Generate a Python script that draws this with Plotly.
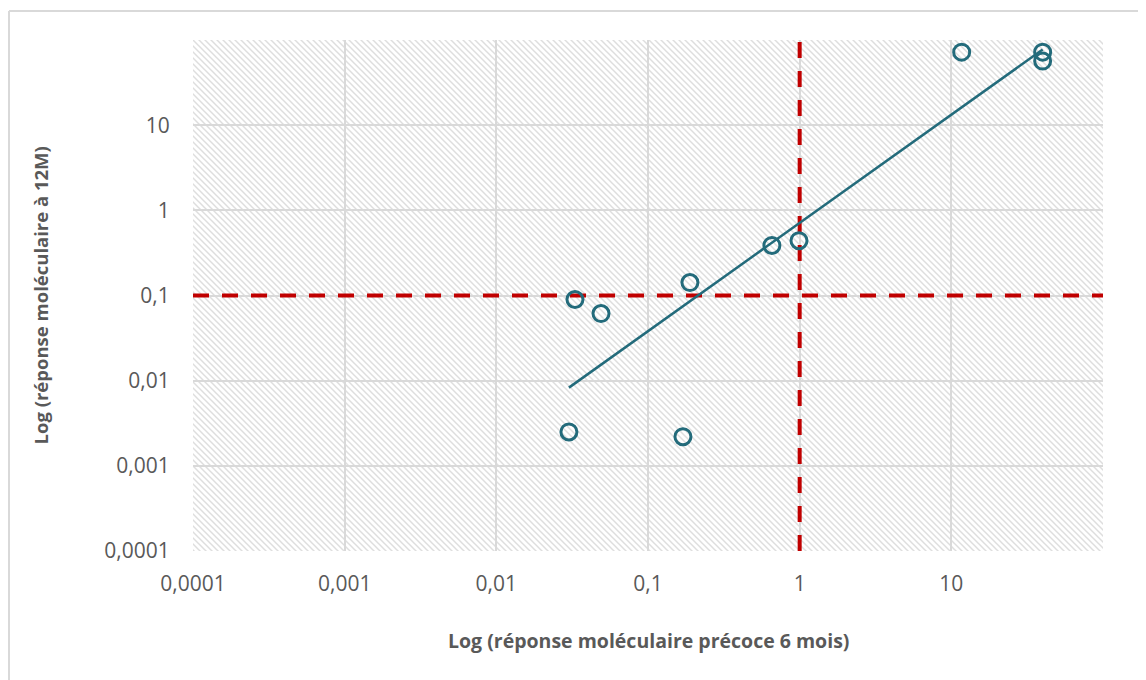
import base64
import numpy as np
import plotly.graph_objects as go

# ---- data ----
x_early_6m = [11.7, 40.0, 40.0, 0.656, 0.99, 0.189, 0.033, 0.049, 0.0301, 0.17]
y_12m = [72.0, 72.0, 56.6, 0.387, 0.44, 0.142, 0.0898, 0.0614, 0.0025, 0.0022]

tick_vals = [1e-4, 1e-3, 1e-2, 1e-1, 1, 10]
tick_text = ["0,0001", "0,001", "0,01", "0,1", "1", "10"]

x_threshold = 1.0   # vertical red dashed line
y_threshold = 0.1   # horizontal red dashed line
axis_min, axis_max = 1e-4, 1e2

x_title = "Log (réponse moléculaire précoce 6 mois)"
y_title = "Log (réponse moléculaire à 12M)"

# power trendline (least squares in log-log space, as Excel does)
lx = np.log10(x_early_6m)
ly = np.log10(y_12m)
slope, intercept = np.polyfit(lx, ly, 1)
trend_x = np.array([min(x_early_6m), max(x_early_6m)])
trend_y = 10 ** (intercept + slope * np.log10(trend_x))

TEAL = "#236B7B"
RED = "#C00000"
GREY = "#595959"
GRID = "#D9D9D9"

OFF = 8  # page body margin
W, H = 1146 - OFF, 680 - OFF
ML, MT = 193 - OFF, 40 - OFF
PW, PH = 910, 511
MR, MB = W - ML - PW, H - MT - PH

svg = (
    f'<svg xmlns="http://www.w3.org/2000/svg" width="{PW}" height="{PH}">'
    '<defs><pattern id="p" width="6" height="6" patternUnits="userSpaceOnUse">'
    '<path d="M-1,-1 L7,7 M-1,5 L1,7 M5,-1 L7,1" stroke="#DEDEDE" stroke-width="1.5"/>'
    '</pattern></defs><rect width="100%" height="100%" fill="url(#p)"/></svg>'
)
hatch_uri = "data:image/svg+xml;base64," + base64.b64encode(svg.encode()).decode()

fig = go.Figure()

fig.add_trace(go.Scatter(
    x=[x_threshold, x_threshold], y=[axis_min, axis_max], mode="lines",
    line=dict(color=RED, width=4, dash="16px,13px"), hoverinfo="skip", showlegend=False,
))
fig.add_trace(go.Scatter(
    x=[axis_min, axis_max], y=[y_threshold, y_threshold], mode="lines",
    line=dict(color=RED, width=4, dash="16px,13px"), hoverinfo="skip", showlegend=False,
))
fig.add_trace(go.Scatter(
    x=trend_x, y=trend_y, mode="lines",
    line=dict(color=TEAL, width=2.5), showlegend=False,
))
fig.add_trace(go.Scatter(
    x=x_early_6m, y=y_12m, mode="markers",
    marker=dict(symbol="circle-open", size=16, color=TEAL, line=dict(width=3, color=TEAL)),
    showlegend=False,
))

axis_common = dict(
    type="log", range=[np.log10(axis_min), np.log10(axis_max)],
    tickvals=tick_vals, ticktext=tick_text,
    showgrid=True, gridcolor=GRID, gridwidth=2,
    showline=False, zeroline=False,
    ticks="outside", tickcolor="rgba(0,0,0,0)",
    tickfont=dict(family="Open Sans", size=21, color=GREY),
)

fig.update_layout(
    width=W, height=H,
    margin=dict(l=ML, r=MR, t=MT, b=MB, autoexpand=False),
    paper_bgcolor="white", plot_bgcolor="rgba(0,0,0,0)",
    xaxis=dict(axis_common, ticklen=14),
    yaxis=dict(axis_common, ticklen=18),
    images=[dict(source=hatch_uri, xref="paper", yref="paper", x=0, y=1,
                 sizex=1, sizey=1, sizing="stretch", xanchor="left", yanchor="top",
                 layer="below")],
    annotations=[
        dict(text=f"<b>{x_title}</b>", xref="paper", yref="paper", x=0.5,
             y=(MT + PH - (641 - OFF)) / PH, xanchor="center", yanchor="middle", showarrow=False,
             font=dict(family="Open Sans", size=19.5, color=GREY)),
        dict(text=f"<b>{y_title}</b>", xref="paper", yref="paper",
             x=(40 - OFF - ML) / PW, y=0.5, textangle=-90, xanchor="center", yanchor="middle",
             showarrow=False, font=dict(family="Open Sans", size=18.5, color=GREY)),
    ],
    shapes=[
        dict(type="line", xref="paper", yref="paper", x0=(1 - ML) / PW, x1=(1 - ML) / PW,
             y0=-0.5, y1=1 + (MT - 3) / PH, line=dict(color=GRID, width=2)),
        dict(type="line", xref="paper", yref="paper", x0=(1 - ML) / PW, x1=1.2,
             y0=1 + (MT - 3) / PH, y1=1 + (MT - 3) / PH, line=dict(color=GRID, width=2)),
    ],
)

fig.write_html("out.html")
